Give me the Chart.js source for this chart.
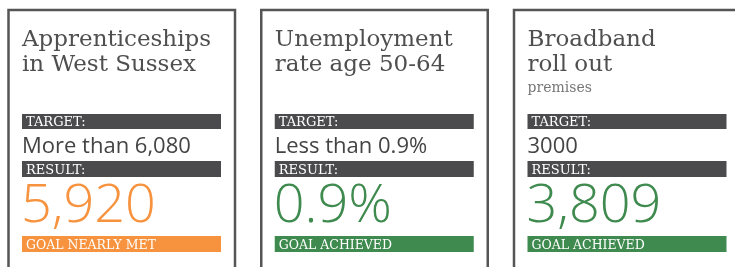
<!DOCTYPE html>
<html>
<head>
<meta charset="utf-8">
<script src="https://cdn.jsdelivr.net/npm/chart.js@4.4.1/dist/chart.umd.min.js"></script>
<style>
html, body { margin: 0; padding: 0; background: #fff; overflow: hidden; }
#wrap { width: 735px; height: 267px; }
</style>
</head>
<body>
<div id="wrap"><canvas id="myChart" width="735" height="267"></canvas></div>
<script>
var titles = [["Apprenticeships", "in West Sussex"], ["Unemployment", "rate age 50-64"], ["Broadband", "roll out"]];
var subtitles = ["", "", "premises"];
var targets = ["More than 6,080", "Less than 0.9%", "3000"];
var results = [5920, 0.9, 3809];
var units = ["", "%", ""];
var statuses = ["GOAL NEARLY MET", "GOAL ACHIEVED", "GOAL ACHIEVED"];
var statusColors = ["#F7923E", "#3F8A4E", "#3F8A4E"];

var serif = '"DejaVu Serif"';
var sans = '"Open Sans", "Noto Sans", sans-serif';

// draws each card (title, target, result, status band) from the arrays above
var cardsPlugin = {
    id: 'cards',
    afterDraw: function(chart) {
        var ctx = chart.ctx;
        ctx.save();
        chart.data.labels.forEach(function(lines, i) {
            var x0 = 8.5 + i * 252.75;
            var bx = x0 + 13.5, bw = 199;

            ctx.lineWidth = 2.5;
            ctx.strokeStyle = '#555';
            ctx.strokeRect(x0, 10, 226.5, 300);

            ctx.fillStyle = '#4f4f4f';
            ctx.textBaseline = 'alphabetic';
            ctx.font = '23px ' + serif;
            ctx.fillText(lines[0], bx, 46);
            ctx.fillText(lines[1], bx, 71);
            if (subtitles[i]) {
                ctx.fillStyle = '#777';
                ctx.font = '14px ' + serif;
                ctx.fillText(subtitles[i], bx, 92);
            }

            // target
            ctx.fillStyle = '#4B4B4D';
            ctx.fillRect(bx, 114, bw, 15);
            ctx.fillStyle = '#fff';
            ctx.font = '13px ' + serif;
            ctx.fillText('TARGET:', bx + 4, 126);
            ctx.fillStyle = '#444';
            ctx.font = '22px ' + sans;
            ctx.fillText(targets[i], bx, 153);

            // result
            ctx.fillStyle = '#4B4B4D';
            ctx.fillRect(bx, 161, bw, 16);
            ctx.fillStyle = '#fff';
            ctx.font = '13px ' + serif;
            ctx.fillText('RESULT:', bx + 4, 174);
            var v = chart.data.datasets[0].data[i];
            ctx.fillStyle = statusColors[i];
            ctx.font = '300 54px ' + sans;
            ctx.fillText(v.toLocaleString('en-GB') + units[i], bx - 1, 222);

            // status band
            ctx.fillStyle = statusColors[i];
            ctx.fillRect(bx, 236, bw, 16);
            ctx.fillStyle = '#fff';
            ctx.font = '12.5px ' + serif;
            ctx.fillText(statuses[i], bx + 4, 249);
        });
        ctx.restore();
    }
};

var ctx = document.getElementById("myChart");
var myChart = new Chart(ctx, {
    type: 'bar',
    data: {
        labels: titles,
        datasets: [{
            label: 'Result',
            data: results,
            backgroundColor: 'rgba(0,0,0,0)'
        }]
    },
    options: {
        responsive: false,
        animation: false,
        events: [],
        plugins: {
            legend: { display: false },
            tooltip: { enabled: false }
        },
        scales: {
            x: { display: false },
            y: { display: false }
        }
    },
    plugins: [cardsPlugin]
});
</script>
</body>
</html>
